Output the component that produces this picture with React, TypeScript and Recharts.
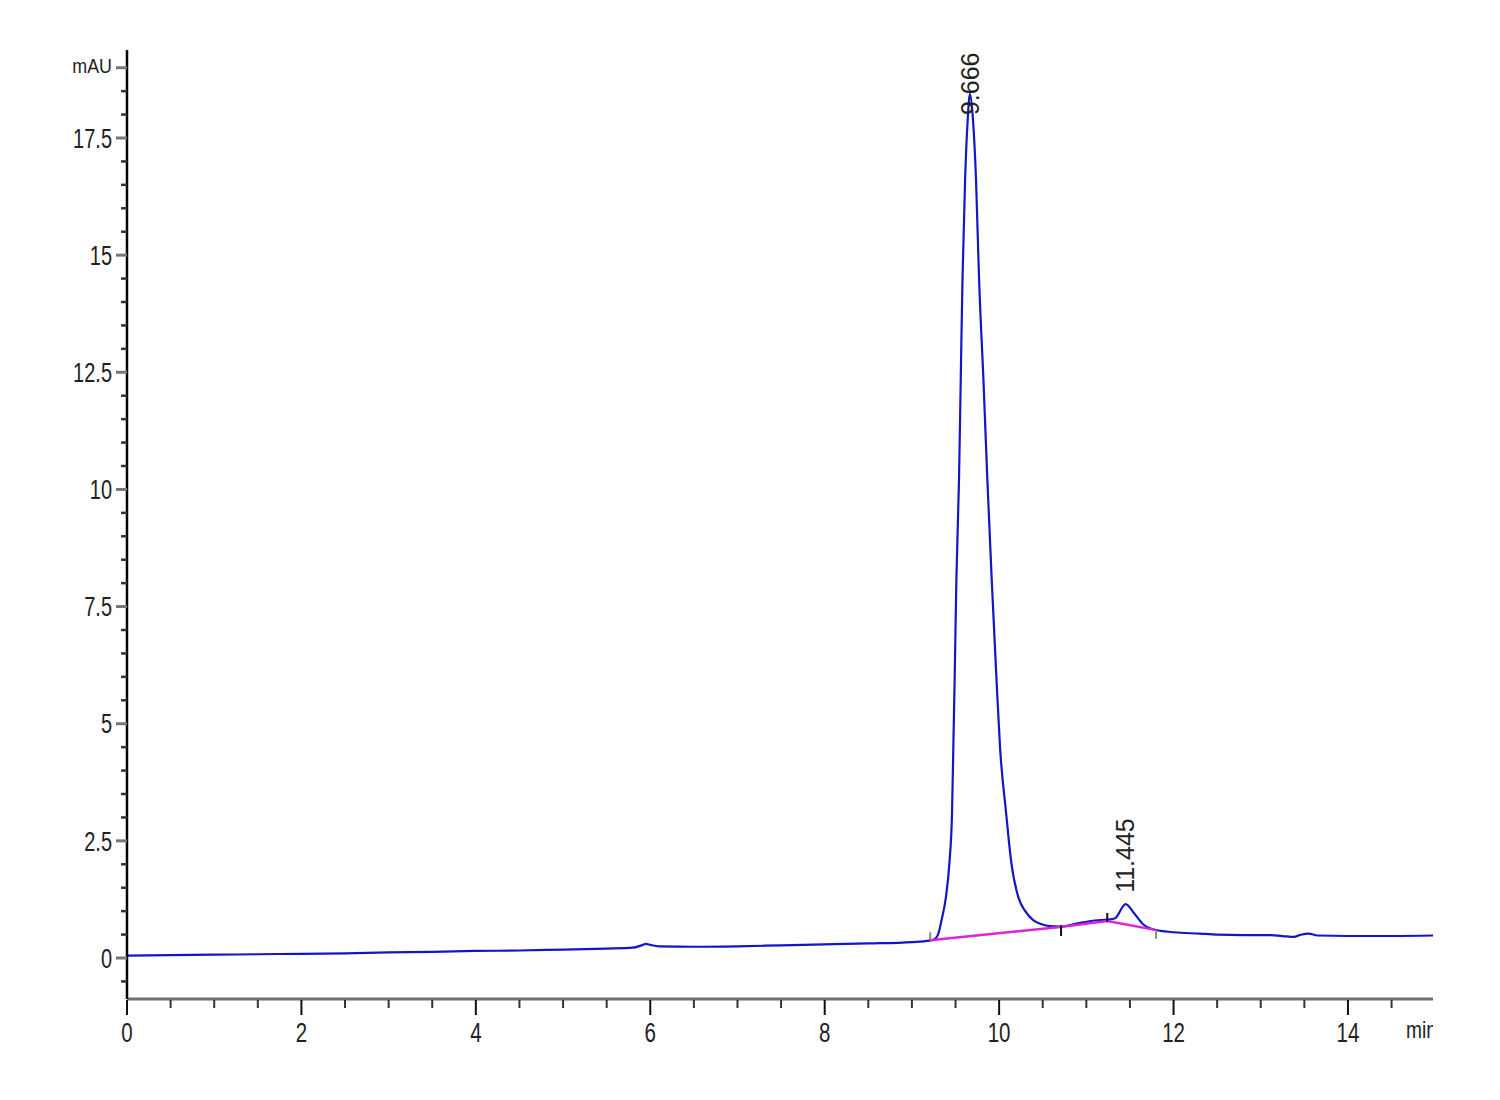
import React from 'react';
import { LineChart, Line, XAxis, YAxis, ReferenceLine, ReferenceDot } from 'recharts';

// Chromatogram signal (time in min, absorbance in mAU)
const times = [
  0, 0.5, 1.0, 1.5, 2.0, 2.5, 3.0, 3.5, 4.0, 4.5, 5.0, 5.5, 5.8, 5.9, 5.95, 6.0, 6.1, 6.5, 7.0, 7.5,
  8.0, 8.5, 9.0, 9.2, 9.25, 9.3, 9.34, 9.39, 9.43, 9.46, 9.475, 9.49, 9.51, 9.54, 9.56, 9.58, 9.61, 9.64,
  9.666, 9.7, 9.735, 9.77, 9.82, 9.865, 9.915, 9.97, 10.01, 10.08, 10.14, 10.22, 10.3, 10.39, 10.47,
  10.58, 10.7, 10.9, 11.1, 11.25, 11.33, 11.45, 11.55, 11.65, 11.75, 11.85, 12.0, 12.3, 12.5, 12.8,
  13.1, 13.3, 13.38, 13.45, 13.55, 13.65, 14.0, 14.5, 14.98,
];
const signal = [
  0.05, 0.06, 0.07, 0.08, 0.09, 0.1, 0.12, 0.13, 0.15, 0.16, 0.18, 0.2, 0.22, 0.27, 0.3, 0.28, 0.25, 0.24, 0.25, 0.27,
  0.29, 0.31, 0.34, 0.37, 0.39, 0.5, 0.81, 1.3, 2.03, 3.1, 4.51, 5.94, 8.08, 10.21, 12.35, 14.49, 16.62, 17.9,
  18.44, 17.9, 16.62, 14.49, 12.35, 10.21, 8.08, 5.94, 4.51, 3.1, 2.03, 1.3, 1.0, 0.81, 0.73,
  0.68, 0.67, 0.74, 0.8, 0.82, 0.85, 1.15, 0.95, 0.72, 0.62, 0.58, 0.55, 0.52, 0.5, 0.49,
  0.49, 0.46, 0.45, 0.49, 0.52, 0.48, 0.47, 0.47, 0.48,
];

// Integration baseline (magenta)
const baselineTimes = [9.21, 10.7, 11.24, 11.79];
const baselineValues = [0.38, 0.66, 0.79, 0.6];

// Integration boundary marks
const markTimes = [9.21, 10.71, 11.24, 11.8];
const markLow = [0.38, 0.47, 0.77, 0.41];
const markHigh = [0.55, 0.7, 0.96, 0.6];
const markColors = ['#8a8a8a', '#111111', '#111111', '#8a8a8a'];

// Peak retention-time labels
const peakTimes = [9.666, 11.445];
const peakLabelBase = [17.99, 1.39];
const peakLabels = ['9.666', '11.445'];

// Axes
const xTicks = [0, 0.5, 1, 1.5, 2, 2.5, 3, 3.5, 4, 4.5, 5, 5.5, 6, 6.5, 7, 7.5, 8, 8.5, 9, 9.5, 10, 10.5, 11, 11.5, 12, 12.5, 13, 13.5, 14, 14.5];
const xLabeled = [0, 2, 4, 6, 8, 10, 12, 14];
const yTicks = [-0.5, 0, 0.5, 1, 1.5, 2, 2.5, 3, 3.5, 4, 4.5, 5, 5.5, 6, 6.5, 7, 7.5, 8, 8.5, 9, 9.5, 10, 10.5, 11, 11.5, 12, 12.5, 13, 13.5, 14, 14.5, 15, 15.5, 16, 16.5, 17, 17.5, 18, 18.5, 19];
const yLabeled = [0, 2.5, 5, 7.5, 10, 12.5, 15, 17.5];
const yUnitAt = 19;
const yUnit = 'mAU';
const xUnit = 'min';

const data = times.map((t, i) => ({ t, v: signal[i] }));
const baselineData = baselineTimes.map((t, i) => ({ t, v: baselineValues[i] }));

const tickFont = "'Liberation Sans', Arial, sans-serif";
const labelFont = "'Liberation Sans', Arial, sans-serif";

const XTick = (props: any) => {
  const { x, y, payload } = props;
  const val = payload.value;
  const major = xLabeled.includes(val);
  const isLast = val === xTicks[xTicks.length - 1];
  return (
    <g>
      <line x1={x} x2={x} y1={y + 1} y2={y + (major ? 16 : 9)} stroke={major ? '#111' : '#333'} strokeWidth={2} />
      {major && (
        <text
          x={0}
          y={0}
          transform={`translate(${x},${y + 43}) scale(0.76,1)`}
          textAnchor="middle"
          fontFamily={tickFont}
          fontSize={27}
          fill="#222"
        >
          {String(val)}
        </text>
      )}
      {isLast && (
        <svg x={1406} y={y + 16} width={27} height={34}>
          <text x={0} y={0} transform="translate(0,23) scale(0.8,1)" fontFamily={tickFont} fontSize={24} fill="#222">
            {xUnit}
          </text>
        </svg>
      )}
    </g>
  );
};

const YTick = (props: any) => {
  const { x, y, payload } = props;
  const val = payload.value;
  const labeled = yLabeled.includes(val);
  const unit = val === yUnitAt;
  const major = labeled || unit;
  return (
    <g>
      <line x1={x - (major ? 11 : 6)} x2={x} y1={y} y2={y} stroke={major ? '#777' : '#333'} strokeWidth={major ? 3 : 2.5} />
      {labeled && (
        <text
          x={0}
          y={0}
          transform={`translate(${x - 15},${y}) scale(0.74,1)`}
          textAnchor="end"
          dominantBaseline="central"
          fontFamily={tickFont}
          fontSize={27}
          fill="#222"
        >
          {String(val)}
        </text>
      )}
      {unit && (
        <text
          x={0}
          y={0}
          transform={`translate(${x - 15},${y - 2}) scale(0.85,1)`}
          textAnchor="end"
          dominantBaseline="central"
          fontFamily={tickFont}
          fontSize={21}
          fill="#222"
        >
          {yUnit}
        </text>
      )}
    </g>
  );
};

const makePeakLabel = (text: string) => (props: any) => {
  const vb = props.viewBox || {};
  const cx = vb.x + (vb.width || 0) / 2;
  const cy = vb.y + (vb.height || 0) / 2;
  return (
    <text
      x={0}
      y={0}
      transform={`translate(${cx + 9},${cy}) rotate(-90)`}
      fontFamily={labelFont}
      fontSize={25}
      fill="#222"
    >
      {text}
    </text>
  );
};

export default function App() {
  return (
    <div style={{ position: 'absolute', left: 0, top: 0, width: 1500, height: 1100, background: '#fff' }}>
      <LineChart width={1500} height={1100} data={data} margin={{ top: 50, right: 67, bottom: 41, left: 0 }}>
        <XAxis
          type="number"
          dataKey="t"
          domain={[0, 14.975]}
          allowDataOverflow
          ticks={xTicks}
          interval={0}
          height={60}
          tickSize={0}
          tickMargin={0}
          tickLine={false}
          axisLine={{ stroke: '#707070', strokeWidth: 3 }}
          tick={<XTick />}
        />
        <YAxis
          type="number"
          dataKey="v"
          domain={[-0.875, 19.378]}
          allowDataOverflow
          ticks={yTicks}
          interval={0}
          width={127}
          tickSize={0}
          tickMargin={0}
          tickLine={false}
          axisLine={{ stroke: '#000', strokeWidth: 2.5 }}
          tick={<YTick />}
        />
        <Line
          type="monotone"
          dataKey="v"
          stroke="#1414c8"
          strokeWidth={2.2}
          dot={false}
          activeDot={false}
          isAnimationActive={false}
        />
        <Line
          data={baselineData}
          type="linear"
          dataKey="v"
          stroke="#dd22dd"
          strokeWidth={2.5}
          dot={false}
          activeDot={false}
          isAnimationActive={false}
        />
        {markTimes.map((t, i) => (
          <ReferenceLine
            key={`m${i}`}
            segment={[{ x: t, y: markLow[i] }, { x: t, y: markHigh[i] }]}
            stroke={markColors[i]}
            strokeWidth={2}
            ifOverflow="visible"
          />
        ))}
        {peakTimes.map((t, i) => (
          <ReferenceDot
            key={`p${i}`}
            x={t}
            y={peakLabelBase[i]}
            r={0}
            fill="none"
            stroke="none"
            ifOverflow="visible"
            label={makePeakLabel(peakLabels[i])}
          />
        ))}
      </LineChart>
    </div>
  );
}
